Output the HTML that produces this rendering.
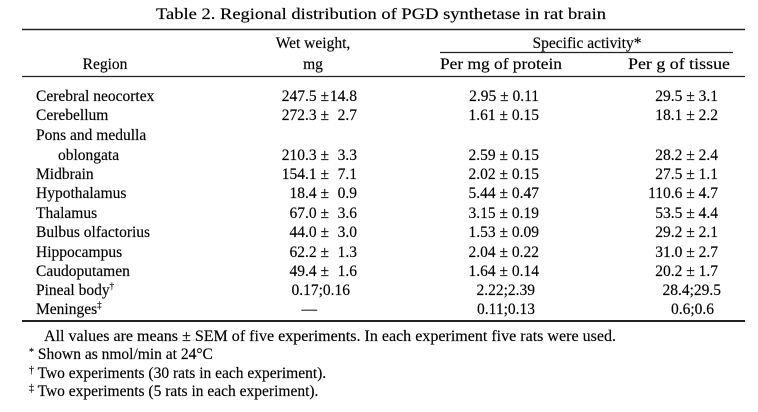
<!DOCTYPE html>
<html><head><meta charset="utf-8"><style>
html,body{margin:0;padding:0;background:#fff;}
svg{display:block;}
text{font-family:"Liberation Serif",serif;font-size:15.5px;fill:#000;stroke:#000;stroke-width:0.15;}
</style></head><body>
<svg width="758" height="412" viewBox="0 0 758 412" xmlns="http://www.w3.org/2000/svg">
<text x="381" y="19" text-anchor="middle" textLength="450" lengthAdjust="spacingAndGlyphs" font-size="16.5">Table 2.   Regional distribution of PGD synthetase in rat brain</text>
<line x1="22" y1="29.5" x2="745" y2="29.5" stroke="#222" stroke-width="1.6"/>
<text x="313" y="48" text-anchor="middle">Wet weight,</text>
<text x="587" y="48" text-anchor="middle">Specific activity*</text>
<line x1="440" y1="52.5" x2="733" y2="52.5" stroke="#222" stroke-width="1.2"/>
<text x="105" y="69" text-anchor="middle">Region</text>
<text x="313" y="69" text-anchor="middle">mg</text>
<text x="501" y="69" text-anchor="middle" textLength="122" lengthAdjust="spacingAndGlyphs">Per mg of protein</text>
<text x="679" y="69" text-anchor="middle" textLength="102" lengthAdjust="spacingAndGlyphs">Per g of tissue</text>
<line x1="22" y1="76.5" x2="745" y2="76.5" stroke="#222" stroke-width="1.2"/>
<g>
<text x="36" y="101">Cerebral neocortex</text>
<text x="36" y="120">Cerebellum</text>
<text x="36" y="140">Pons and medulla</text>
<text x="58" y="160">oblongata</text>
<text x="36" y="179">Midbrain</text>
<text x="36" y="198">Hypothalamus</text>
<text x="36" y="218">Thalamus</text>
<text x="36" y="237">Bulbus olfactorius</text>
<text x="36" y="257">Hippocampus</text>
<text x="36" y="276">Caudoputamen</text>
<text x="36" y="295">Pineal body<tspan font-size="9" dy="-6">†</tspan></text>
<text x="36" y="314">Meninges<tspan font-size="9" dy="-6">‡</tspan></text>
</g>
<g text-anchor="end">
<text x="329" y="101">247.5 ±</text><text x="357" y="101">14.8</text>
<text x="329" y="120">272.3 ±</text><text x="357" y="120">2.7</text>
<text x="329" y="160">210.3 ±</text><text x="357" y="160">3.3</text>
<text x="329" y="179">154.1 ±</text><text x="357" y="179">7.1</text>
<text x="329" y="198">18.4 ±</text><text x="357" y="198">0.9</text>
<text x="329" y="218">67.0 ±</text><text x="357" y="218">3.6</text>
<text x="329" y="237">44.0 ±</text><text x="357" y="237">3.0</text>
<text x="329" y="257">62.2 ±</text><text x="357" y="257">1.3</text>
<text x="329" y="276">49.4 ±</text><text x="357" y="276">1.6</text>
<text x="350" y="295">0.17;0.16</text>
<text x="317" y="314">—</text>

<text x="539" y="101">2.95 ± 0.11</text>
<text x="539" y="120">1.61 ± 0.15</text>
<text x="539" y="160">2.59 ± 0.15</text>
<text x="539" y="179">2.02 ± 0.15</text>
<text x="539" y="198">5.44 ± 0.47</text>
<text x="539" y="218">3.15 ± 0.19</text>
<text x="539" y="237">1.53 ± 0.09</text>
<text x="539" y="257">2.04 ± 0.22</text>
<text x="539" y="276">1.64 ± 0.14</text>
<text x="535" y="295">2.22;2.39</text>
<text x="535" y="314">0.11;0.13</text>

<text x="718" y="101">29.5 ± 3.1</text>
<text x="718" y="120">18.1 ± 2.2</text>
<text x="718" y="160">28.2 ± 2.4</text>
<text x="718" y="179">27.5 ± 1.1</text>
<text x="718" y="198">110.6 ± 4.7</text>
<text x="718" y="218">53.5 ± 4.4</text>
<text x="718" y="237">29.2 ± 2.1</text>
<text x="718" y="257">31.0 ± 2.7</text>
<text x="718" y="276">20.2 ± 1.7</text>
<text x="721" y="295">28.4;29.5</text>
<text x="714" y="314">0.6;0.6</text>
</g>
<line x1="22" y1="321" x2="745" y2="321" stroke="#222" stroke-width="2"/>
<text x="44" y="341" textLength="572" lengthAdjust="spacingAndGlyphs">All values are means ± SEM of five experiments. In each experiment five rats were used.</text>
<text x="29" y="359"><tspan font-size="10" dy="-4">*</tspan><tspan dy="4"> Shown as nmol/min at 24°C</tspan></text>
<text x="29" y="378"><tspan font-size="10" dy="-5">†</tspan><tspan dy="5"> Two experiments (30 rats in each experiment).</tspan></text>
<text x="29" y="396"><tspan font-size="10" dy="-5">‡</tspan><tspan dy="5"> Two experiments (5 rats in each experiment).</tspan></text>
</svg>
</body></html>
